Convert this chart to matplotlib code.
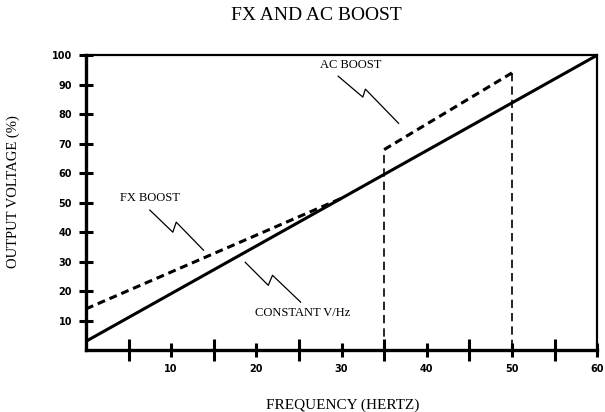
import matplotlib
matplotlib.use("Agg")
import matplotlib.pyplot as plt

# frequency (Hz) vs output voltage (%)
const_hz = [0, 60]
const_v = [3, 100]

fx_hz = [0, 30]
fx_v = [14, 51.5]

ac_hz = [35, 35, 50, 50]
ac_v = [0, 68, 94, 0]

x_labels = [10, 20, 30, 40, 50, 60]
y_labels = [10, 20, 30, 40, 50, 60, 70, 80, 90, 100]

serif = "Liberation Serif"

fig = plt.figure(figsize=(6.05, 4.12), dpi=100)
ax = fig.add_axes([0.142, 0.150, 0.845, 0.716])

##constant V/Hz line
ax.plot(const_hz, const_v, color="black", lw=2.2, solid_capstyle="butt")

##FX boost
ax.plot(fx_hz, fx_v, color="black", lw=2.2, linestyle=(0, (2.6, 1.6)))

##AC boost - slope thick, verticals thin
ax.plot(ac_hz[1:3], ac_v[1:3], color="black", lw=2.2, linestyle=(0, (2.6, 1.6)))
ax.plot(ac_hz[:2], ac_v[:2], color="black", lw=1.2, linestyle=(0, (5, 3)))
ax.plot(ac_hz[2:], ac_v[2:], color="black", lw=1.2, linestyle=(0, (5, 3)))

ax.set_xlim(0, 60)
ax.set_ylim(0, 100)

for s in ["left", "bottom"]:
    ax.spines[s].set_linewidth(2.4)
for s in ["top", "right"]:
    ax.spines[s].set_linewidth(1.6)

ax.set_xticks(x_labels)
ax.set_xticklabels([str(v) for v in x_labels])
ax.set_xticks([5, 15, 25, 35, 45, 55], minor=True)
ax.set_yticks(y_labels)
ax.set_yticklabels([str(v) for v in y_labels])
ax.set_yticks([20, 40, 60, 80], minor=True)

ax.tick_params(which="major", direction="inout", length=10, width=2.2, pad=5)
ax.tick_params(which="minor", direction="inout", length=16, width=2.2)
for lab in ax.get_xticklabels() + ax.get_yticklabels():
    lab.set_fontfamily("DejaVu Sans")
    lab.set_fontweight("bold")
    lab.set_fontsize(7)

##lightning style leaders
def leader(xs, ys):
    ax.plot(xs, ys, color="black", lw=0.9, clip_on=False)

leader([29.6, 32.5, 32.8, 36.7], [92.9, 85.8, 88.5, 76.9])
leader([7.5, 10.2, 10.6, 13.8], [47.5, 40.0, 43.4, 33.9])
leader([18.7, 21.4, 21.9, 25.2], [29.8, 22.0, 25.4, 16.3])

ax.text(27.5, 96.6, "AC BOOST", family=serif, fontsize=9, va="center")
ax.text(4.0, 51.5, "FX BOOST", family=serif, fontsize=9, va="center")
ax.text(19.9, 12.5, "CONSTANT V/Hz", family=serif, fontsize=9, va="center")

fig.text(0.523, 0.963, "FX AND AC BOOST", family=serif, fontsize=14,
         ha="center", va="center")
fig.text(0.566, 0.017, "FREQUENCY (HERTZ)", family=serif, fontsize=11,
         ha="center", va="center")
fig.text(0.022, 0.534, "OUTPUT VOLTAGE (%)", family=serif, fontsize=10.5,
         ha="center", va="center", rotation=90)

fig.savefig("out.png", dpi=100)
